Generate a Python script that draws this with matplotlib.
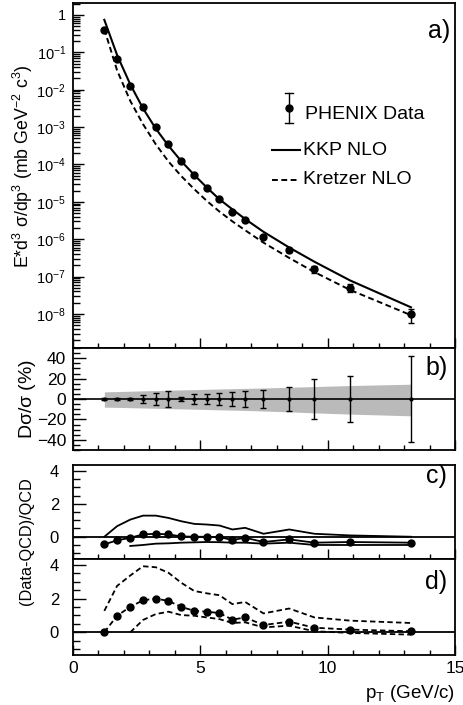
import numpy as np
import matplotlib
matplotlib.use('Agg')
import matplotlib.pyplot as plt
from matplotlib.ticker import MultipleLocator, LogLocator, NullFormatter, FixedLocator

plt.rcParams['font.family'] = ['Liberation Sans', 'DejaVu Sans']
plt.rcParams['mathtext.fontset'] = 'custom'
plt.rcParams['mathtext.rm'] = 'Liberation Sans'
plt.rcParams['mathtext.it'] = 'Liberation Sans:italic'
plt.rcParams['mathtext.sf'] = 'Liberation Sans'
plt.rcParams['mathtext.default'] = 'regular'

# ---------------- data ----------------
pt = [1.23, 1.73, 2.25, 2.75, 3.25, 3.75, 4.25, 4.76, 5.26, 5.75, 6.26, 6.76, 7.48, 8.49, 9.48, 10.88, 13.27]
data = [4.0e-1, 6.5e-2, 1.26e-2, 3.5e-3, 1.02e-3, 3.5e-4, 1.23e-4, 5.1e-5, 2.3e-5, 1.17e-5,
        5.4e-6, 3.2e-6, 1.15e-6, 5.1e-7, 1.6e-7, 5.1e-8, 9.8e-9]
kkp = [7.4e-1, 8.5e-2, 1.38e-2, 3.16e-3, 9.1e-4, 3.16e-4, 1.23e-4, 5.25e-5, 2.4e-5, 1.17e-5,
       6.3e-6, 3.47e-6, 1.58e-6, 6.0e-7, 2.5e-7, 7.9e-8, 1.51e-8]
kretzer = [4.17e-1, 3.31e-2, 5.0e-3, 1.2e-3, 3.47e-4, 1.2e-4, 4.9e-5, 2.19e-5, 1.05e-5, 5.5e-6,
           3.0e-6, 1.74e-6, 8.1e-7, 3.16e-7, 1.32e-7, 4.4e-8, 9.3e-9]
rel_err = [1, 1, 1, 4, 6, 8, 2, 5, 5, 6, 7, 8, 9, 12, 20, 23, 42]          # percent
band_hi = [7, 7.3, 7.6, 8, 8.3, 8.6, 8.9, 9.2, 9.5, 9.8, 10.1, 10.4, 10.8, 11.5, 12.2, 13.2, 14.5]
band_lo = [-8, -8.2, -8.5, -8.8, -9.1, -9.4, -9.7, -10, -10.3, -10.6, -10.9, -11.2, -11.8,
           -12.6, -13.6, -14.8, -16.5]

c_data = [-0.46, -0.22, -0.06, 0.14, 0.18, 0.14, 0.02, 0.0, 0.0, -0.02, -0.2, -0.06, -0.32,
          -0.16, -0.36, -0.32, -0.36]
c_hi = [0.0, 0.64, 1.04, 1.28, 1.28, 1.14, 0.94, 0.78, 0.74, 0.68, 0.44, 0.54, 0.18, 0.44,
        0.18, 0.08, 0.0]
pt_lo = pt[2:]
c_lo = [-0.56, -0.5, -0.42, -0.40, -0.36, -0.34, -0.32, -0.33, -0.36, -0.36, -0.42, -0.36,
        -0.5, -0.5, -0.5]

d_data = [0.0, 0.98, 1.51, 1.9, 2.0, 1.86, 1.51, 1.27, 1.22, 1.14, 0.75, 0.88, 0.43, 0.63,
          0.27, 0.16, 0.06]
d_hi = [1.27, 2.75, 3.37, 3.92, 3.86, 3.53, 2.94, 2.45, 2.31, 2.2, 1.67, 1.8, 1.12, 1.41,
        0.88, 0.69, 0.55]
d_lo = [0.0, 0.73, 1.08, 1.22, 1.02, 0.98, 0.88, 0.78, 0.55, 0.59, 0.29, 0.39, 0.06, -0.04, -0.14]

# ---------------- figure ----------------
W, H = 464, 705
fig = plt.figure(figsize=(W / 100, H / 100), dpi=100)

def ax_at(top, bottom, left=73, right=455):
    return fig.add_axes([left / W, (H - bottom) / H, (right - left) / W, (bottom - top) / H])

axa = ax_at(3, 348)
axb = ax_at(348, 450)
axc = ax_at(465, 559)
axd = ax_at(559, 655)

dash = (0, (3.0, 1.8))
TICK = 12.5
PANEL = 18

for ax in (axa, axb, axc, axd):
    ax.set_xlim(0, 15)
    for s in ax.spines.values():
        s.set_linewidth(1.3)
    ax.xaxis.set_major_locator(MultipleLocator(5))
    ax.xaxis.set_minor_locator(MultipleLocator(1))
    ax.tick_params(which='both', direction='in', top=False, right=False, width=1.0)
    ax.tick_params(which='major', axis='x', length=7)
    ax.tick_params(which='minor', axis='x', length=3.5)
    ax.tick_params(axis='y', labelsize=TICK)
    ax.tick_params(axis='x', labelsize=TICK)
for ax in (axa, axb, axc):
    ax.tick_params(axis='x', labelbottom=False)

# ---- panel a ----
axa.set_yscale('log')
axa.plot(pt, kkp, color='black', lw=1.5)
axa.plot(pt, kretzer, color='black', lw=1.4, ls=dash)
yerr = np.array(data) * np.array(rel_err) / 100.0
axa.errorbar(pt, data, yerr=yerr, fmt='o', color='black', ms=5, capsize=2, elinewidth=1)
axa.yaxis.set_minor_locator(LogLocator(base=10, subs=np.arange(2, 10), numticks=100))
axa.yaxis.set_minor_formatter(NullFormatter())
axa.set_yticks([10.0 ** e for e in range(-8, 1)])
axa.set_yticklabels(['$10^{-8}$', '$10^{-7}$', '$10^{-6}$', '$10^{-5}$', '$10^{-4}$',
                     '$10^{-3}$', '$10^{-2}$', '$10^{-1}$', '1'])
axa.set_ylim(10 ** -8.91, 10 ** 0.32)
axa.tick_params(axis='y', which='major', length=8, pad=5, labelsize=10.5)
axa.tick_params(axis='y', which='minor', length=5)
axa.text(0.987, 0.92, 'a)', transform=axa.transAxes, ha='right', va='center', fontsize=PANEL)

# legend (drawn by hand)
axa.plot([0.565, 0.565], [0.651, 0.738], transform=axa.transAxes, color='black', lw=1)
for yy in (0.651, 0.738):
    axa.plot([0.555, 0.575], [yy, yy], transform=axa.transAxes, color='black', lw=1)
axa.plot([0.565], [0.695], 'o', transform=axa.transAxes, color='black', ms=5)
axa.text(0.607, 0.677, 'PHENIX Data', transform=axa.transAxes, va='center', fontsize=14)
axa.plot([0.521, 0.594], [0.573, 0.573], transform=axa.transAxes, color='black', lw=1.5)
axa.text(0.601, 0.573, 'KKP NLO', transform=axa.transAxes, va='center', fontsize=14)
axa.plot([0.521, 0.594], [0.487, 0.487], transform=axa.transAxes, color='black', lw=1.4, ls=dash)
axa.text(0.601, 0.487, 'Kretzer NLO', transform=axa.transAxes, va='center', fontsize=14)

fig.text(23 / W, 1 - 166 / H, r'E*d$^3$ $\sigma$/dp$^3$ (mb GeV$^{-2}$ c$^3$)', rotation=90,
         ha='center', va='center', fontsize=12.8)

# ---- panel b ----
axb.set_ylim(-50, 50)
axb.fill_between(pt, band_lo, band_hi, color='#bababa', lw=0)
axb.axhline(0, color='black', lw=1.2)
axb.errorbar(pt, [0] * len(pt), yerr=rel_err, fmt='o', color='black', ms=2, capsize=2,
             elinewidth=1)
axb.yaxis.set_major_locator(FixedLocator([-40, -20, 0, 20, 40]))
axb.yaxis.set_minor_locator(MultipleLocator(5))
axb.tick_params(axis='y', which='major', length=9, pad=5)
axb.tick_params(axis='y', which='minor', length=5)
axb.text(0.982, 0.80, 'b)', transform=axb.transAxes, ha='right', va='center', fontsize=PANEL)
fig.text(28 / W, 1 - 399 / H, r'D$\sigma$/$\sigma$ (%)', rotation=90, ha='center', va='center',
         fontsize=14)

# ---- panels c, d ----
for ax in (axc, axd):
    ax.set_ylim(-1.35, 4.35)
    ax.axhline(0, color='black', lw=1.3)
    ax.yaxis.set_major_locator(FixedLocator([0, 2, 4]))
    ax.yaxis.set_minor_locator(MultipleLocator(0.5))
    ax.tick_params(axis='y', which='major', length=9, pad=10, labelsize=12)
    ax.tick_params(axis='y', which='minor', length=5)

axc.plot(pt, c_hi, color='black', lw=1.3)
axc.plot(pt_lo, c_lo, color='black', lw=1.3)
axc.plot(pt, c_data, '-o', color='black', lw=1.3, ms=5)
axc.text(0.98, 0.88, 'c)', transform=axc.transAxes, ha='right', va='center', fontsize=PANEL)

axd.plot(pt, d_hi, color='black', lw=1.3, ls=dash)
axd.plot(pt_lo, d_lo, color='black', lw=1.3, ls=dash)
axd.plot(pt, d_data, 'o', color='black', ms=5)
axd.plot(pt, d_data, color='black', lw=1.3, ls=dash)
axd.text(0.98, 0.76, 'd)', transform=axd.transAxes, ha='right', va='center', fontsize=PANEL)
axd.tick_params(axis='x', pad=4)
axd.set_xticks([0, 5, 10, 15])
axd.set_xticklabels(['0', '5', '10', '15'])

fig.text(27 / W, 1 - 541 / H, '(Data-QCD)/QCD', rotation=90, ha='center', va='center',
         fontsize=11.7)
fig.text(455 / W, 1 - 694 / H, r'p$_{\rm T}$ (GeV/c)', ha='right', va='center', fontsize=13.5)

fig.savefig('out.png', dpi=100)
